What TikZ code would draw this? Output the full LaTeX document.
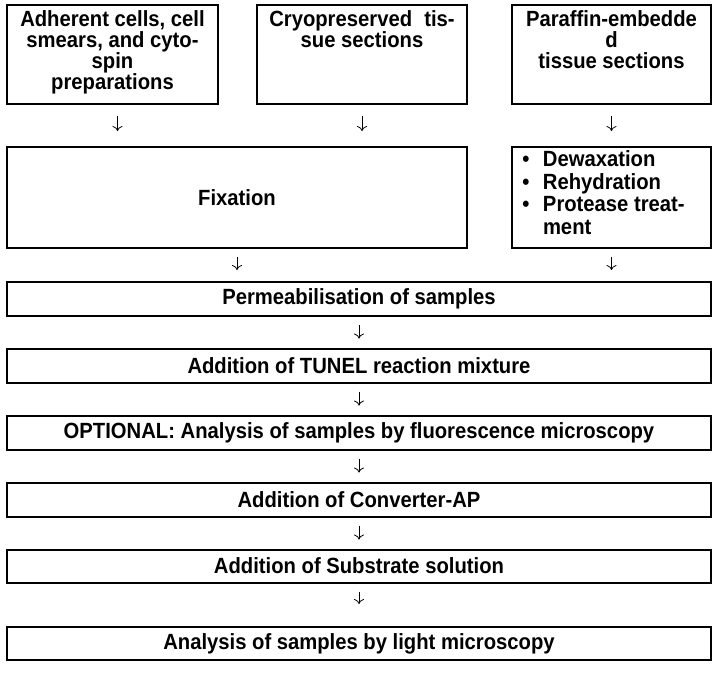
\documentclass[tikz,border=0pt]{standalone}
\usepackage{fontspec}
\setmainfont{Liberation Sans}[FakeStretch=0.92]
\usetikzlibrary{arrows.meta}

\tikzset{
  stepbox/.style={draw, line width=2pt, inner sep=0pt,
    font=\bfseries\fontsize{22}{22}\selectfont, align=center},
  flow/.style={line width=0.8pt, -{To[length=5pt,width=10pt]},
    shorten <=8pt, shorten >=9pt},
}

\begin{document}
\begin{tikzpicture}[x=1pt,y=-1pt]
  \useasboundingbox (0,0) rectangle (716,680);

  % three kinds of samples
  \node[stepbox] (adh) at (112.5,54.5) {\parbox[c][99pt][t]{211pt}{\vspace*{6pt}\centering
    \fontsize{22}{20.8}\selectfont\lineskiplimit=-20pt Adherent cells, cell\\smears, and cyto-\\spin\\preparations}};
  \node[stepbox] (cryo) at (362,54.5) {\parbox[c][99pt][t]{210pt}{\vspace*{6pt}\centering
    \fontsize{22}{20.8}\selectfont\lineskiplimit=-20pt Cryopreserved\hspace{0.3em} tis-\\sue sections}};
  \node[stepbox] (para) at (611.5,54.5) {\parbox[c][99pt][t]{199pt}{\vspace*{6pt}\centering
    \fontsize{22}{20.8}\selectfont\lineskiplimit=-20pt Paraffin-embedde\\d\\tissue sections}};

  % pre-treatment
  \node[stepbox, minimum width=460pt, minimum height=101pt] (fix) at (237,197.5) {Fixation};
  \node[stepbox] (prot) at (611.5,197.5) {\parbox[c][101pt][t]{199pt}{\vspace*{4pt}%
    \fontsize{22}{22.5}\selectfont\raggedright\leftskip=31pt
    \noindent\llap{\textbullet\hspace{13.5pt}}Dewaxation\par
    \noindent\llap{\textbullet\hspace{13.5pt}}Rehydration\par
    \noindent\llap{\textbullet\hspace{13.5pt}}Protease treat-\\ment\par}};

  % common steps
  \node[stepbox, minimum width=704pt, minimum height=34pt] (perm) at (359,299) {Permeabilisation of samples};
  \node[stepbox, minimum width=704pt, minimum height=34pt] (tunel) at (359,365.5) {Addition of TUNEL reaction mixture};
  \node[stepbox, minimum width=704pt, minimum height=34pt] (fluo) at (359,432.5) {OPTIONAL: Analysis of samples by fluorescence microscopy};
  \node[stepbox, minimum width=704pt, minimum height=34pt] (conv) at (359,499.5) {Addition of Converter-AP};
  \node[stepbox, minimum width=704pt, minimum height=33pt] (subs) at (359,566) {Addition of Substrate solution};
  \node[stepbox, minimum width=704pt, minimum height=33pt] (light) at (359,643.5) {Analysis of samples by light microscopy};

  \draw[flow, shorten <=11pt, shorten >=15pt] ([xshift=5pt]adh.south) -- ([xshift=5pt]adh.south |- fix.north);
  \draw[flow, shorten <=11pt, shorten >=15pt] (cryo.south) -- (cryo.south |- fix.north);
  \draw[flow, shorten <=11pt, shorten >=15pt] (para) -- (prot);
  \draw[flow, shorten >=11pt] (fix.south) -- (fix.south |- perm.north);
  \draw[flow, shorten >=11pt] (prot.south) -- (prot.south |- perm.north);
  \draw[flow] (perm) -- (tunel);
  \draw[flow] (tunel) -- (fluo);
  \draw[flow] (fluo) -- (conv);
  \draw[flow] (conv) -- (subs);
  \draw[flow, shorten >=22pt] (subs) -- (light);
\end{tikzpicture}
\end{document}
